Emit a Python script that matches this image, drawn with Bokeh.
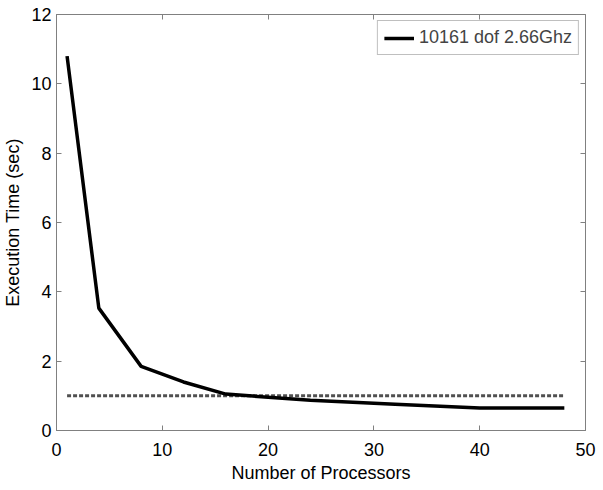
from bokeh.plotting import figure
from bokeh.models import Range1d, LinearAxis, FixedTicker, Legend, LegendItem
from bokeh.embed import file_html
from bokeh.resources import INLINE

processors = [1, 4, 8, 12, 16, 24, 32, 40, 48]
exec_time = [10.8, 3.53, 1.85, 1.40, 1.05, 0.87, 0.76, 0.65, 0.65]
ref_x = [1, 48]
ref_y = [1.0, 1.0]
x_ticks = [0, 10, 20, 30, 40, 50]
y_ticks = [0, 2, 4, 6, 8, 10, 12]
series_label = "10161 dof 2.66Ghz"

FONT = "Liberation Sans"
FRAME = "#808080"

p = figure(width=603, height=490, output_backend="svg", toolbar_location=None,
           x_range=Range1d(0, 50), y_range=Range1d(0, 12),
           min_border_left=8, min_border_right=18, min_border_top=14, min_border_bottom=60)
p.grid.visible = False
p.outline_line_color = FRAME
p.outline_line_width = 1

for ax, ticks in ((p.xaxis[0], x_ticks), (p.yaxis[0], y_ticks)):
    ax.ticker = FixedTicker(ticks=ticks)
    ax.major_tick_in = 5
    ax.major_tick_out = 0
    ax.minor_tick_line_color = None
    ax.axis_line_color = FRAME
    ax.major_tick_line_color = FRAME
    ax.major_label_text_font = FONT
    ax.major_label_text_font_size = "18px"
    ax.major_label_text_color = "black"
    ax.axis_label_text_font = FONT
    ax.axis_label_text_font_size = "18px"
    ax.axis_label_text_font_style = "normal"
    ax.axis_label_text_color = "black"

p.xaxis[0].axis_label = "Number of Processors"
p.yaxis[0].axis_label = "Execution Time (sec)"
p.xaxis[0].major_label_standoff = 12
p.xaxis[0].axis_label_standoff = 4
p.yaxis[0].major_label_standoff = 5
p.yaxis[0].axis_label_standoff = 5

top = LinearAxis(ticker=FixedTicker(ticks=x_ticks))
right = LinearAxis(ticker=FixedTicker(ticks=y_ticks))
for ax in (top, right):
    ax.major_tick_in = 5
    ax.major_tick_out = 0
    ax.minor_tick_line_color = None
    ax.axis_line_color = None
    ax.major_tick_line_color = FRAME
    ax.major_label_text_color = None
    ax.major_label_text_font_size = "1px"
    ax.major_label_standoff = 0
p.add_layout(top, "above")
p.add_layout(right, "right")

p.line(ref_x, ref_y, line_color="#505050", line_width=3, line_dash="4 2")
main = p.line(processors, exec_time, line_color="black", line_width=3.5)

legend = Legend(items=[LegendItem(label=series_label, renderers=[main])],
                location="top_right")
legend.label_text_font = FONT
legend.label_text_font_size = "18px"
legend.border_line_color = FRAME
legend.glyph_width = 30
legend.margin = 6
legend.padding = 6
legend.spacing = 0
p.add_layout(legend)

open("out.html", "w").write(file_html(p, INLINE))
